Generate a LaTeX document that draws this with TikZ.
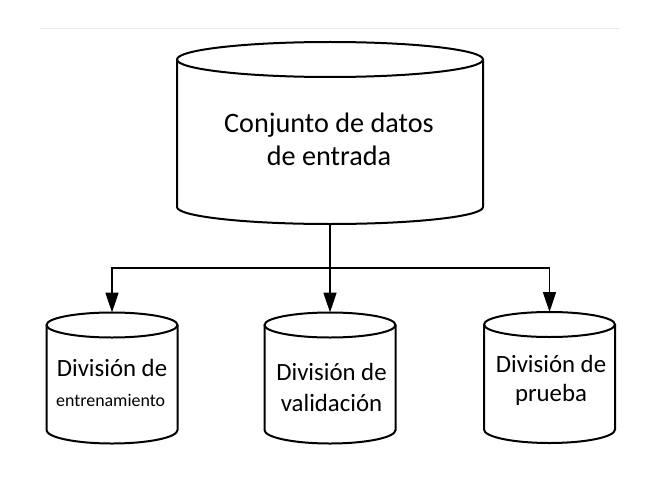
\documentclass[tikz,border=0pt]{standalone}
\usepackage{fontspec}
\setmainfont{Carlito}
\usetikzlibrary{arrows.meta,calc}
\tikzset{
  cylbox/.style={inner sep=0pt, outer sep=0pt, draw=none, rectangle},
  cylline/.style={line width=2pt, black},
  conn/.style={line width=1.6pt, black, -{Triangle[length=20pt,width=13pt]}},
  bigtext/.style={inner sep=0pt, anchor=base, font=\fontsize{28.2}{33}\selectfont},
  smalltext/.style={inner sep=0pt, anchor=base, font=\fontsize{24.8}{29}\selectfont},
  tinytext/.style={inner sep=0pt, anchor=base, font=\fontsize{17.9}{21}\selectfont},
}
\newcommand{\drawcyl}[4]{% name, rx, ry top, ry bottom
  \draw[cylline] ($(#1.north)+(0,#3)$) ellipse [x radius=#2 pt, y radius=#3 pt];
  \draw[cylline] ($(#1.north west)+(0,#3)$) -- ($(#1.south west)+(0,-#4)$)
    arc[start angle=180, end angle=360, x radius=#2 pt, y radius=#4 pt]
    -- ($(#1.north east)+(0,#3)$);
}
\begin{document}
\begin{tikzpicture}[x=1pt,y=-1pt]
\useasboundingbox (0,0) rectangle (660,484);
\fill[white] (0,0) rectangle (660,484);
% faint top rule
\coordinate (ruleL) at (40,29);
\coordinate (ruleR) at (620,29);
\draw[black!8, line width=1pt] (ruleL) -- (ruleR);

% cylinders (invisible boxes)
\node[cylbox, minimum width=306pt, minimum height=182pt] (big) at (330,133) {};
\node[cylbox, minimum width=131pt, minimum height=131pt] (left) at (112,378) {};
\node[cylbox, minimum width=131pt, minimum height=131pt] (mid) at (330,378) {};
\node[cylbox, minimum width=131pt, minimum height=131pt] (right) at (549.5,377.5) {};

\drawcyl{big}{153}{17.5}{17}
\drawcyl{left}{65.5}{12.5}{13.5}
\drawcyl{mid}{65.5}{12.5}{13.5}
\drawcyl{right}{65.5}{12.5}{13.5}

% texts
\node[bigtext] (bigA) at (329,132.7) {Conjunto de datos};
\node[bigtext] (bigB) at (329,165) {de entrada};
\node[smalltext] (leftA) at (112,376.7) {División de};
\node[tinytext] (leftB) at (110.6,406.7) {entrenamiento};
\node[smalltext] (midA) at (331.5,380) {División de};
\node[smalltext] (midB) at (331.5,411.7) {validación};
\node[smalltext] (rightA) at (551,372.7) {División de};
\node[smalltext] (rightB) at (551,401.7) {prueba};

% connectors
\coordinate (split) at ($(big.south)+(0,44)$);
\draw[conn] (big.south) -- (mid.north);
\draw[conn] (split) -| (left.north);
\draw[conn] (split) -| (right.north);
\end{tikzpicture}
\end{document}
